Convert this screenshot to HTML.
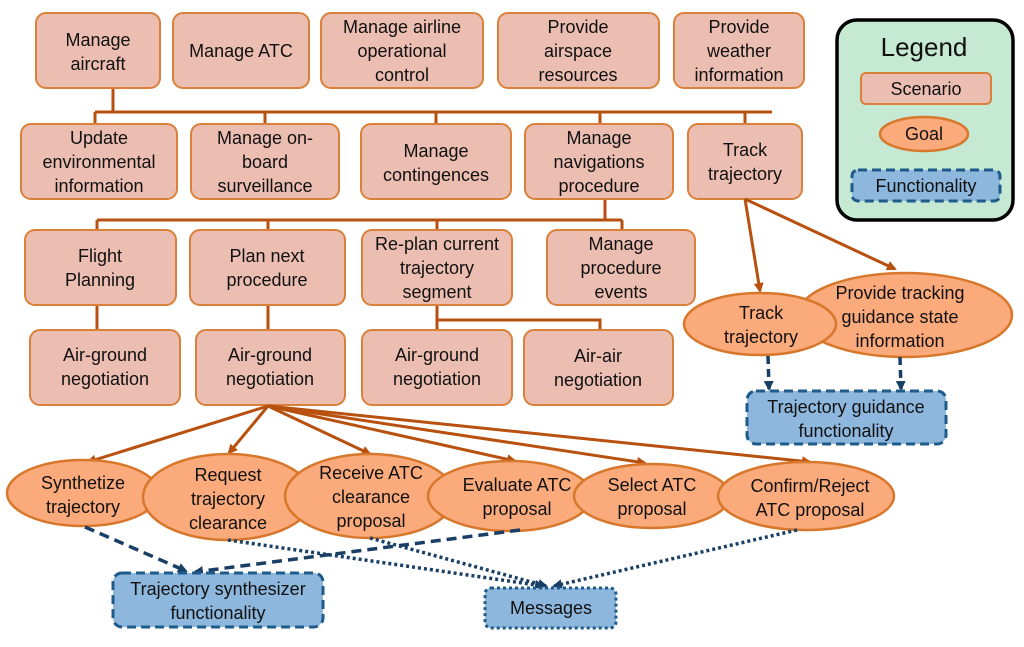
<!DOCTYPE html>
<html><head><meta charset="utf-8"><style>
html,body{margin:0;padding:0;background:#fff}
svg text{font-family:"Liberation Sans",sans-serif;font-size:18px;fill:#111;text-anchor:middle}
</style></head><body>
<svg width="1024" height="642" viewBox="0 0 1024 642" xmlns="http://www.w3.org/2000/svg">
<defs>
<marker id="ao" markerWidth="10" markerHeight="10" refX="8" refY="5" orient="auto" markerUnits="userSpaceOnUse"><path d="M0,0 L10,5 L0,10 z" fill="#b8510f"/></marker>
<marker id="ab" markerWidth="10" markerHeight="10" refX="8" refY="5" orient="auto" markerUnits="userSpaceOnUse"><path d="M0,0 L10,5 L0,10 z" fill="#1a3f66"/></marker>
</defs>
<g stroke="#b8510f" stroke-width="3" fill="none">
<path d="M113,88 V112 M95,112 H772 M95,112 V124 M265,112 V124 M436,112 V124 M600,112 V124 M745,112 V124"/>
<path d="M605,199 V220 M97,220 H622 M97,220 V230 M268,220 V230 M437,220 V230 M622,220 V230"/>
<path d="M97,305 V330 M268,305 V330 M437,305 V320 H600 V330 M437,320 V330"/>
</g>
<g fill="#ecbdb1" stroke="#d9813a" stroke-width="2">
<rect x="36" y="13" width="124" height="75" rx="10"/>
<rect x="173" y="13" width="136" height="75" rx="10"/>
<rect x="321" y="13" width="162" height="75" rx="10"/>
<rect x="498" y="13" width="161" height="75" rx="10"/>
<rect x="674" y="13" width="130" height="75" rx="10"/>
<rect x="21" y="124" width="156" height="75" rx="10"/>
<rect x="191" y="124" width="148" height="75" rx="10"/>
<rect x="361" y="124" width="150" height="75" rx="10"/>
<rect x="525" y="124" width="148" height="75" rx="10"/>
<rect x="688" y="124" width="114" height="75" rx="10"/>
<rect x="25" y="230" width="151" height="75" rx="10"/>
<rect x="190" y="230" width="155" height="75" rx="10"/>
<rect x="362" y="230" width="150" height="75" rx="10"/>
<rect x="547" y="230" width="148" height="75" rx="10"/>
<rect x="30" y="330" width="150" height="75" rx="10"/>
<rect x="196" y="330" width="149" height="75" rx="10"/>
<rect x="362" y="330" width="150" height="75" rx="10"/>
<rect x="524" y="330" width="149" height="75" rx="10"/>
</g>
<text x="98" y="46">Manage</text><text x="98" y="70">aircraft</text>
<text x="241" y="57">Manage ATC</text>
<text x="402" y="33">Manage airline</text><text x="402" y="57">operational</text><text x="402" y="81">control</text>
<text x="578" y="33">Provide</text><text x="578" y="57">airspace</text><text x="578" y="81">resources</text>
<text x="739" y="33">Provide</text><text x="739" y="57">weather</text><text x="739" y="81">information</text>
<text x="99" y="144">Update</text><text x="99" y="168">environmental</text><text x="99" y="192">information</text>
<text x="265" y="144">Manage on-</text><text x="265" y="168">board</text><text x="265" y="192">surveillance</text>
<text x="436" y="157">Manage</text><text x="436" y="181">contingences</text>
<text x="599" y="144">Manage</text><text x="599" y="168">navigations</text><text x="599" y="192">procedure</text>
<text x="745" y="156">Track</text><text x="745" y="180">trajectory</text>
<text x="100" y="262">Flight</text><text x="100" y="286">Planning</text>
<text x="267" y="262">Plan next</text><text x="267" y="286">procedure</text>
<text x="437" y="250">Re-plan current</text><text x="437" y="274">trajectory</text><text x="437" y="298">segment</text>
<text x="621" y="250">Manage</text><text x="621" y="274">procedure</text><text x="621" y="298">events</text>
<text x="105" y="361">Air-ground</text><text x="105" y="385">negotiation</text>
<text x="270" y="361">Air-ground</text><text x="270" y="385">negotiation</text>
<text x="437" y="361">Air-ground</text><text x="437" y="385">negotiation</text>
<text x="598" y="362">Air-air</text><text x="598" y="386">negotiation</text>
<g stroke="#b8510f" stroke-width="3" fill="none" marker-end="url(#ao)">
<path d="M268,406 L88,462"/><path d="M268,406 L229,453"/><path d="M268,406 L370,454"/>
<path d="M268,406 L515,461"/><path d="M268,406 L645,463"/><path d="M268,406 L810,462"/>
<path d="M745,199 L760,291"/><path d="M745,199 L895,269"/>
</g>
<g fill="#fbaa7b" stroke="#d7772b" stroke-width="2.5">
<ellipse cx="83" cy="493" rx="76" ry="33"/>
<ellipse cx="228" cy="497" rx="85" ry="43"/>
<ellipse cx="370" cy="496" rx="85" ry="42"/>
<ellipse cx="510" cy="496" rx="82" ry="35"/>
<ellipse cx="652" cy="496" rx="78" ry="32"/>
<ellipse cx="806" cy="496" rx="88" ry="34"/>
<ellipse cx="905" cy="315" rx="107" ry="42"/>
<ellipse cx="760" cy="324" rx="76" ry="31"/>
</g>
<text x="83" y="489">Synthetize</text><text x="83" y="513">trajectory</text>
<text x="228" y="481">Request</text><text x="228" y="505">trajectory</text><text x="228" y="529">clearance</text>
<text x="371" y="479">Receive ATC</text><text x="371" y="503">clearance</text><text x="371" y="527">proposal</text>
<text x="517" y="491">Evaluate ATC</text><text x="517" y="515">proposal</text>
<text x="652" y="491">Select ATC</text><text x="652" y="515">proposal</text>
<text x="810" y="492">Confirm/Reject</text><text x="810" y="516">ATC proposal</text>
<text x="900" y="299">Provide tracking</text><text x="900" y="323">guidance state</text><text x="900" y="347">information</text>
<text x="761" y="319">Track</text><text x="761" y="343">trajectory</text>
<g stroke="#1a3f66" stroke-width="3.5" fill="none">
<path d="M85,527 L186,571" stroke-dasharray="10,6" marker-end="url(#ab)"/>
<path d="M520,530 L195,572" stroke-dasharray="10,6" marker-end="url(#ab)"/>
<path d="M228,540 L543,586" stroke-dasharray="3,3" marker-end="url(#ab)"/>
<path d="M370,538 L546,586" stroke-dasharray="3,3" marker-end="url(#ab)"/>
<path d="M797,530 L554,586" stroke-dasharray="3,3" marker-end="url(#ab)"/>
<path d="M768,356 L769,389" stroke-dasharray="8,5" marker-end="url(#ab)"/>
<path d="M900,357 L901,389" stroke-dasharray="8,5" marker-end="url(#ab)"/>
</g>
<g fill="#8db7dd" stroke="#1f5b8a" stroke-width="3">
<rect x="113" y="573" width="210" height="54" rx="9" stroke-dasharray="9,5"/>
<rect x="485" y="588" width="131" height="40" rx="6" stroke-dasharray="3,3"/>
<rect x="747" y="391" width="199" height="53" rx="9" stroke-dasharray="9,5"/>
</g>
<text x="218" y="595">Trajectory synthesizer</text><text x="218" y="619">functionality</text>
<text x="551" y="614">Messages</text>
<text x="846" y="413">Trajectory guidance</text><text x="846" y="437">functionality</text>
<rect x="837" y="20" width="176" height="200" rx="20" fill="#c6e9d4" stroke="#000" stroke-width="3.5"/>
<text x="924" y="56" style="font-size:26px">Legend</text>
<rect x="861" y="73" width="130" height="31" rx="5" fill="#ecbdb1" stroke="#d9813a" stroke-width="2"/>
<text x="926" y="95">Scenario</text>
<ellipse cx="924" cy="134" rx="44" ry="17" fill="#fbaa7b" stroke="#d7772b" stroke-width="2.5"/>
<text x="924" y="140">Goal</text>
<rect x="852" y="170" width="148" height="31" rx="6" fill="#8db7dd" stroke="#1f5b8a" stroke-width="3" stroke-dasharray="9,5"/>
<text x="926" y="192">Functionality</text>
</svg>
</body></html>
